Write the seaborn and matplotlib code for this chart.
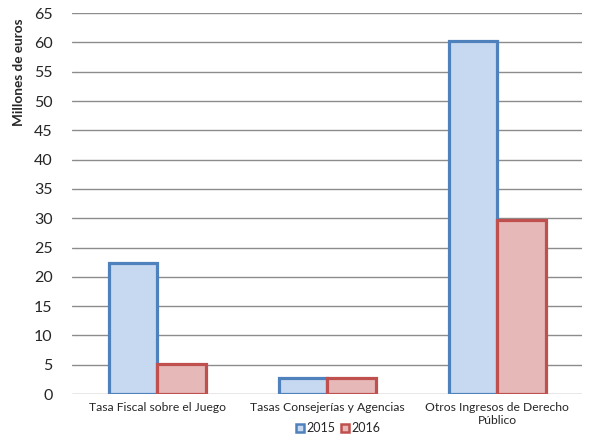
import matplotlib
matplotlib.use("Agg")
import matplotlib.pyplot as plt
from matplotlib.lines import Line2D
import seaborn as sns
import pandas as pd

categorias = ["Tasa Fiscal sobre el Juego", "Tasas Consejerías y Agencias",
              "Otros Ingresos de Derecho\nPúblico"]
valores_2015 = [22.4, 2.7, 60.2]
valores_2016 = [5.1, 2.7, 29.7]
años = ["2015", "2016"]

df = pd.DataFrame({
    "categoria": categorias * 2,
    "valor": valores_2015 + valores_2016,
    "año": [años[0]] * 3 + [años[1]] * 3,
})

sns.set_style("white")
plt.rcParams["font.family"] = ["Lato", "DejaVu Sans"]

fills = {"2015": "#C6D9F1", "2016": "#E6B9B8"}
edges = {"2015": "#4F81BD", "2016": "#C0504D"}

fig = plt.figure(figsize=(5.96, 4.4), dpi=100)
ax = fig.add_axes([0.121, 0.1045, 0.856, 0.8655])

sns.barplot(data=df, x="categoria", y="valor", hue="año", palette=fills,
            saturation=1, width=0.57, gap=0, ax=ax, legend=False, zorder=3)
for cont, a in zip(ax.containers, años):
    for bar in cont:
        bar.set_edgecolor(edges[a])
        bar.set_linewidth(2.3)

ax.set_ylim(0, 65)
ax.set_yticks(range(0, 66, 5))
ax.set_xlim(-0.5, 2.5)
ax.yaxis.grid(True, color="#8C8C8C", linewidth=1.0, zorder=0)
ax.set_axisbelow(True)
for s in ax.spines.values():
    s.set_visible(False)
ax.tick_params(axis="y", length=0, labelsize=11.5, pad=14)
ax.tick_params(axis="x", length=0, labelsize=8.7, pad=6)
ax.set_xlabel("")
ax.set_ylabel("Millones de euros", fontsize=9.8, fontweight="bold")
ax.yaxis.set_label_coords(-0.092, 0.845)

handles = [Line2D([], [], marker="s", linestyle="none", markersize=6,
                  markerfacecolor=fills[a], markeredgecolor=edges[a],
                  markeredgewidth=1.8, label=a) for a in años]
fig.legend(handles=handles, loc="center", bbox_to_anchor=(0.567, 0.027),
           ncol=2, frameon=False, fontsize=9, handletextpad=0.1,
           columnspacing=0.4, handlelength=0.8, borderaxespad=0)

fig.savefig("out.png", dpi=100)
